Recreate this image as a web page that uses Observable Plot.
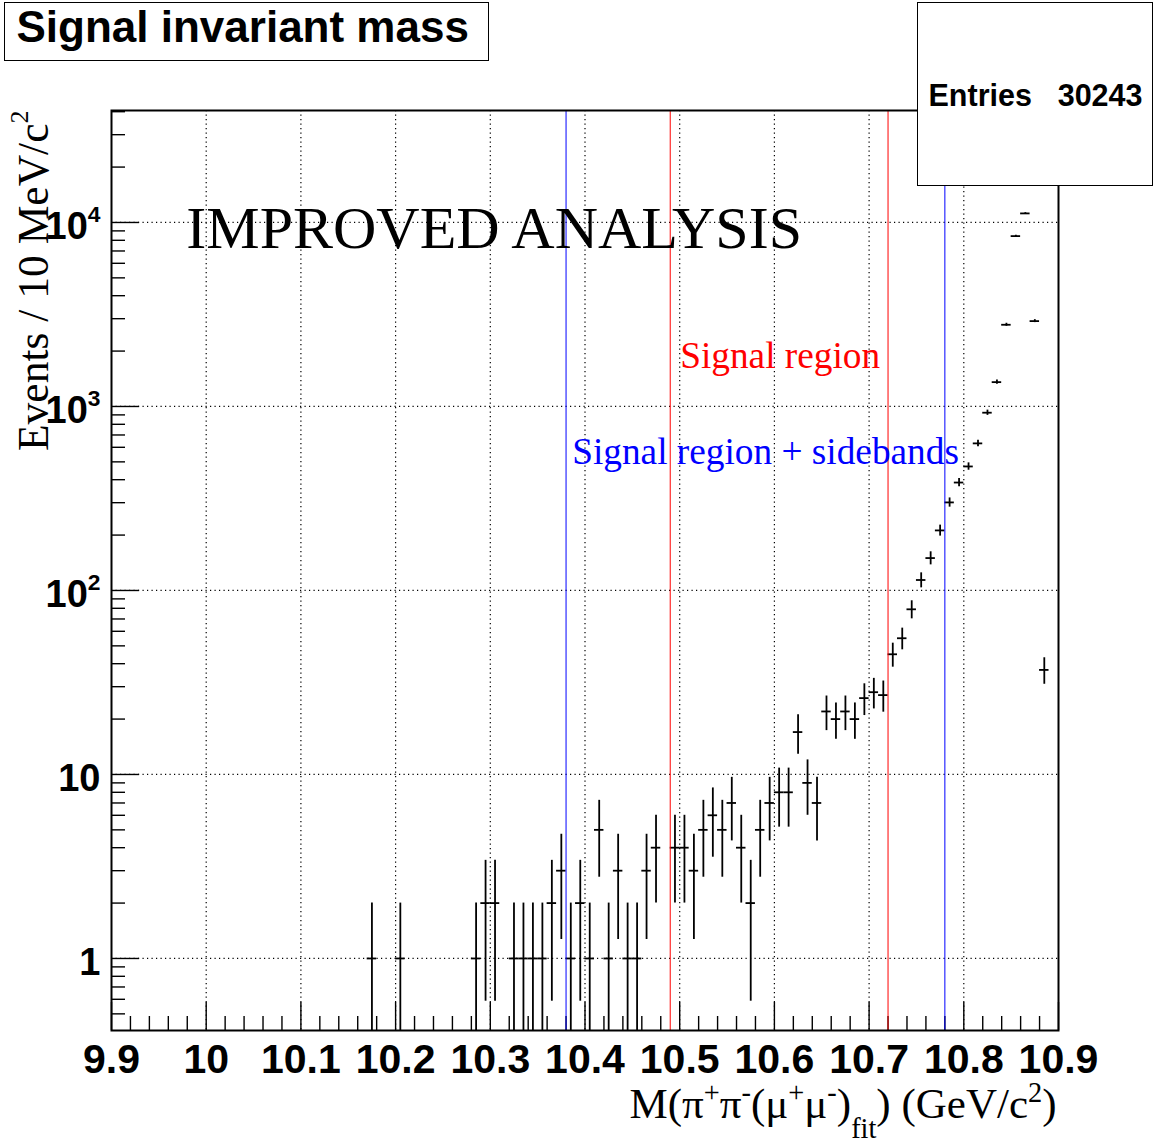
<!DOCTYPE html>
<html>
<head>
<meta charset="utf-8">
<script src="https://cdn.jsdelivr.net/npm/d3@7"></script>
<script src="https://cdn.jsdelivr.net/npm/@observablehq/plot@0.6"></script>
<style>
  body { margin: 0; background: #fff; }
  #wrap { position: relative; width: 1154px; height: 1145px; overflow: hidden; }
  .box { position: absolute; box-sizing: border-box; border: 1.5px solid #000; background: #fff;
         font-family: "Liberation Sans", Arial, sans-serif; font-weight: bold; color: #000; z-index: 2; }
  .box span { position: absolute; white-space: nowrap; }
</style>
</head>
<body>
<div id="wrap">
  <div class="box" id="titlebox" style="left:4px;top:2px;width:485px;height:59px;">
    <span style="left:11.5px;top:2.3px;font-size:44px;line-height:44px;">Signal invariant mass</span>
  </div>
  <div class="box" id="statsbox" style="left:917px;top:2px;width:236px;height:184px;">
    <span style="left:10.5px;top:77px;font-size:30.5px;line-height:30px;">Entries</span>
    <span style="right:9.5px;top:77px;font-size:30.5px;line-height:30px;">30243</span>
  </div>
</div>
<script>
// ---- data (bin centres in GeV/c^2, entries per 10 MeV bin) ----
const massGeV = [
  10.175, 10.205, 10.285, 10.295, 10.305, 10.325, 10.335, 10.345, 10.355, 10.365,
  10.375, 10.385, 10.395, 10.405, 10.415, 10.425, 10.435, 10.445, 10.455, 10.465,
  10.475,
  10.495, 10.505, 10.515, 10.525, 10.535, 10.545, 10.555, 10.565, 10.575, 10.585,
  10.595, 10.605, 10.615, 10.625, 10.635, 10.645, 10.655, 10.665, 10.675, 10.685,
  10.695, 10.705, 10.715, 10.725, 10.735, 10.745, 10.755, 10.765, 10.775, 10.785,
  10.795, 10.805, 10.815, 10.825, 10.835, 10.845, 10.855, 10.865, 10.875, 10.885
];
const events = [
  1, 1, 1, 2, 2, 1, 1, 1, 1, 2,
  3, 1, 2, 1, 5, 1, 3, 1, 1, 3,
  4,
  4, 4, 3, 5, 6, 5, 7, 4, 2, 5,
  7, 8, 8, 17, 9, 7, 22, 20, 22, 20,
  26, 28, 27, 45, 55, 79, 114, 150, 212, 301,
  386, 472, 630, 925, 1356, 2780, 8430, 11200, 2910, 37
];
const binWidth = 0.01;

const xTickValues = [9.9, 10.0, 10.1, 10.2, 10.3, 10.4, 10.5, 10.6, 10.7, 10.8, 10.9];
const xTickLabels = ["9.9", "10", "10.1", "10.2", "10.3", "10.4", "10.5", "10.6", "10.7", "10.8", "10.9"];
const yTickValues = [1, 10, 100, 1000, 10000];
const yTickLabels = ["1", "10", "10^{2}", "10^{3}", "10^{4}"];

const cutMasses = [10.38, 10.49, 10.72, 10.78];
const cutColors = ["#0000ff", "#ff0000", "#ff0000", "#0000ff"];

const annotations = [
  {label: "IMPROVED ANALYSIS", x: 9.979, y: 7300, color: "#000000", size: 60},
  {label: "Signal region", x: 10.5005, y: 1610, color: "#ff0000", size: 37.3},
  {label: "Signal region + sidebands", x: 10.3865, y: 485, color: "#0000ff", size: 37.3}
];

// ---- layout ----
const W = 1154, H = 1145;
const mL = 111, mR = 96, mT = 110, mB = 115;
const frameW = W - mL - mR, frameH = H - mT - mB;
const yDomain = [0.406, 40600];

const table = massGeV.map((m, i) => ({m, n: events[i]}));
const gridX = xTickValues.slice(1, -1);
const minorX = d3.range(0, 51).map(i => +(9.9 + i * 0.02).toFixed(2)).filter(v => !xTickValues.some(t => Math.abs(t - v) < 1e-6));
const minorY = [];
for (let k = -1; k <= 4; k++) for (let j = 2; j <= 9; j++) { const v = j * Math.pow(10, k); if (v > yDomain[0] && v < yDomain[1]) minorY.push(v); }

const dotted = {stroke: "#000", strokeWidth: 1.2, strokeDasharray: "1.2,3.3"};
const sans = "Liberation Sans, Arial, sans-serif";
const serif = "Liberation Serif, Times New Roman, serif";

const chart = Plot.plot({
  width: W, height: H,
  marginLeft: mL, marginRight: mR, marginTop: mT, marginBottom: mB,
  style: {background: "#fff", overflow: "visible"},
  x: {domain: [9.9, 10.9], axis: null},
  y: {type: "log", domain: yDomain, axis: null},
  marks: [
    // grid
    Plot.ruleX(gridX, dotted),
    Plot.ruleY(yTickValues, dotted),
    // ticks (inside the frame)
    Plot.ruleX(xTickValues, {stroke: "#000", strokeWidth: 1.4, insetTop: frameH - 28}),
    Plot.ruleX(minorX, {stroke: "#000", strokeWidth: 1.4, insetTop: frameH - 14}),
    Plot.ruleY(yTickValues, {stroke: "#000", strokeWidth: 1.4, insetRight: frameW - 28}),
    Plot.ruleY(minorY, {stroke: "#000", strokeWidth: 1.4, insetRight: frameW - 14}),
    // histogram points with errors
    Plot.ruleX(table, {x: "m", y1: d => Math.max(d.n - Math.sqrt(d.n), yDomain[0]), y2: d => d.n + Math.sqrt(d.n), stroke: "#000", strokeWidth: 1.8}),
    Plot.ruleY(table, {y: "n", x1: d => d.m - binWidth / 2, x2: d => d.m + binWidth / 2, stroke: "#000", strokeWidth: 1.8}),
    // region lines
    Plot.ruleX(cutMasses, {stroke: (d, i) => cutColors[i], strokeWidth: 1}),
    // frame
    Plot.frame({stroke: "#000", strokeWidth: 2}),
    // annotations
    Plot.text(annotations, {x: "x", y: "y", text: "label", fill: "color", fontSize: d => d.size, textAnchor: "start", lineAnchor: "bottom", fontFamily: serif}),
    // tick labels
    Plot.text(xTickValues, {x: d => d, text: (d, i) => xTickLabels[i], frameAnchor: "bottom", lineAnchor: "top", dy: 13, fontSize: 41, fontWeight: "bold", fontFamily: sans, fill: "#000"}),
    Plot.text(yTickValues, {y: d => d, text: (d, i) => yTickLabels[i], frameAnchor: "left", textAnchor: "end", lineAnchor: "middle", dx: -11, dy: 4, fontSize: 38, fontWeight: "bold", fontFamily: sans, fill: "#000"}),
    // axis titles
    Plot.text(["M(\u03c0^{+}\u03c0^{-}(\u03bc^{+}\u03bc^{-})_{fit}) (GeV/c^{2})"], {frameAnchor: "bottom-right", textAnchor: "end", lineAnchor: "bottom", dy: 87, dx: -2, fontSize: 43, fontFamily: serif, fill: "#000"}),
    Plot.text(["Events / 10 MeV/c^{2}"], {frameAnchor: "top-left", rotate: -90, textAnchor: "end", lineAnchor: "bottom", dx: -64, dy: 0, fontSize: 43.5, fontFamily: serif, fill: "#000"})
  ]
});

document.getElementById("wrap").appendChild(chart);

// rich text: ^{..} superscript, _{..} subscript
function rich(el, s, size, scale, rise) {
  const t = d3.select(el);
  t.text(null);
  const re = /\^\{([^}]*)\}|_\{([^}]*)\}/g;
  let last = 0, m, shift = 0;
  const add = (txt, fs, dy) => t.append("tspan").attr("font-size", fs).attr("dy", dy).text(txt);
  while ((m = re.exec(s))) {
    if (m.index > last) { add(s.slice(last, m.index), size, -shift); shift = 0; }
    if (m[1] !== undefined) { const r = size * rise; add(m[1], size * scale, -r - shift); shift = -r; }
    else { const r = size * 0.47; add(m[2], size * scale, r - shift); shift = r; }
    last = re.lastIndex;
  }
  if (last < s.length) add(s.slice(last), size, -shift);
}
d3.select(chart).selectAll("text").each(function () {
  const s = this.textContent;
  if (/[\^_]\{/.test(s)) {
    const fs = parseFloat(getComputedStyle(this).fontSize);
    const isX = s.startsWith("M(");
    rich(this, s, fs, isX ? 0.66 : 0.6, isX ? 0.36 : 0.44);
  }
});
</script>
</body>
</html>
